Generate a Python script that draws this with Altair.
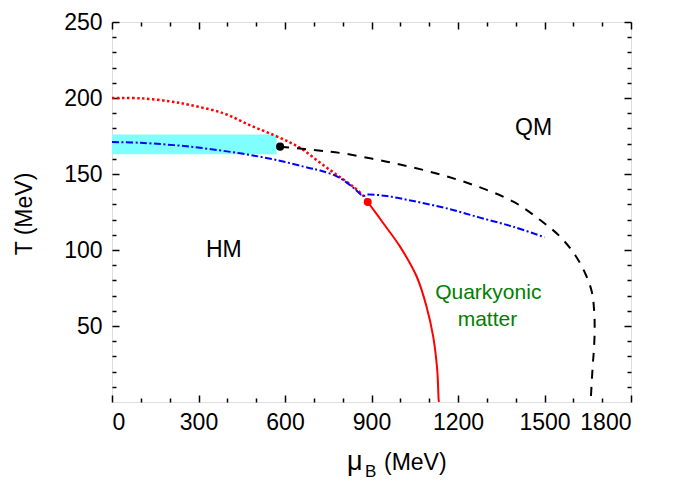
import altair as alt
import pandas as pd

# ---- data ----
red_dot_mu = [0, 100, 200, 270, 386, 479, 560, 620, 664, 721, 779, 837, 872, 887]
red_dot_T = [200, 199.8, 197.8, 195.4, 190, 182, 175.7, 170.5, 165.8, 157.5, 149.5, 141.6, 135.5, 131.6]

blue_mu = [0, 100, 270, 444, 571, 687, 720, 785, 837, 872, 883, 953, 1045, 1161, 1276, 1392, 1500]
blue_T = [171, 170.5, 168, 163.6, 159.2, 153.8, 152.4, 148, 141, 135.5, 136.4, 135.5, 132.2, 127.4, 121.3, 115.3, 108.4]

black_mu = [583, 700, 800, 953, 1103, 1253, 1392, 1485, 1554, 1606, 1641, 1664, 1672, 1674, 1672, 1667, 1660]
black_T = [168, 165.8, 163.6, 158.1, 151.5, 142.8, 131.8, 119.7, 108.8, 96.7, 84.7, 72.6, 60.5, 49.5, 36.4, 23.2, 0]

red_mu = [887, 941, 999, 1057, 1091, 1114, 1128, 1133, 1134]
red_T = [131.6, 117.6, 102.2, 82.4, 62.7, 43, 21, 1.3, 0]

band_mu = [0, 571]
band_T = [163, 176]

pt_mu = [583, 887]
pt_T = [168, 131.6]
pt_color = ["black", "red"]

labels = ["HM", "QM", "Quarkyonic", "matter"]
label_mu = [388, 1462, 1305, 1302]
label_T = [100, 180, 72, 54]
label_color = ["black", "black", "green", "green"]
label_size = [23, 23, 21, 21]

x_major = [0, 300, 600, 900, 1200, 1500, 1800]
x_minor = [v for v in range(0, 1801, 100) if v % 300 != 0]
y_major = [50, 100, 150, 200, 250]
y_minor = [v for v in range(0, 251, 10) if v % 50 != 0]

W, H = 519, 380
FONT = "Liberation Sans"

xs = alt.Scale(domain=[0, 1800], nice=False, zero=False)
ys = alt.Scale(domain=[0, 250], nice=False, zero=False)


def line_df(mu, T):
    return pd.DataFrame({"mu": mu, "T": T, "i": list(range(len(mu)))})


def curve(df, color, width, dash=None):
    kw = dict(color=color, strokeWidth=width, interpolate="catmull-rom", clip=True)
    if dash:
        kw["strokeDash"] = dash
    return alt.Chart(df).mark_line(**kw).encode(
        x=alt.X("mu:Q", scale=xs, axis=None),
        y=alt.Y("T:Q", scale=ys, axis=None),
        order="i:Q",
    )


band = alt.Chart(pd.DataFrame({"x0": [band_mu[0]], "x1": [band_mu[1]],
                               "y0": [band_T[0]], "y1": [band_T[1]]})).mark_rect(
    color="#80ffff").encode(
    x=alt.X("x0:Q", scale=xs, axis=None), x2="x1:Q",
    y=alt.Y("y0:Q", scale=ys, axis=None), y2="y1:Q")

red_dotted = curve(line_df(red_dot_mu, red_dot_T), "red", 2.5, [2.5, 2.5])
blue_dd = curve(line_df(blue_mu, blue_T), "blue", 2, [7, 2.5, 2, 2.5])
black_dash = curve(line_df(black_mu, black_T), "black", 2, [9, 8])
red_solid = curve(line_df(red_mu, red_T), "red", 2)

points = alt.Chart(pd.DataFrame({"mu": pt_mu, "T": pt_T, "c": pt_color})).mark_circle(
    size=65, opacity=1).encode(
    x=alt.X("mu:Q", scale=xs, axis=None),
    y=alt.Y("T:Q", scale=ys, axis=None),
    color=alt.Color("c:N", scale=None))

texts = alt.Chart(pd.DataFrame({"t": labels, "mu": label_mu, "T": label_T,
                                "c": label_color, "s": label_size})).mark_text(
    font=FONT, align="center", baseline="middle").encode(
    x=alt.X("mu:Q", scale=xs, axis=None),
    y=alt.Y("T:Q", scale=ys, axis=None),
    text="t:N",
    color=alt.Color("c:N", scale=None),
    size=alt.Size("s:Q", scale=None))

dummy = pd.DataFrame({"mu": [0], "T": [0]})


def xaxis_layer(axis):
    return alt.Chart(dummy).mark_point(opacity=0).encode(
        x=alt.X("mu:Q", scale=xs, axis=axis),
        y=alt.Y("T:Q", scale=ys, axis=None))


def yaxis_layer(axis):
    return alt.Chart(dummy).mark_point(opacity=0).encode(
        x=alt.X("mu:Q", scale=xs, axis=None),
        y=alt.Y("T:Q", scale=ys, axis=axis))


common = dict(title=None, domain=False, grid=False, tickColor="black", tickWidth=1.5)

ax_layers = [
    # labels
    xaxis_layer(alt.Axis(orient="bottom", values=x_major, ticks=False, labelPadding=9,
                         format="d", labelFont=FONT, labelFontSize=23, labelColor="black",
                         title=None, domain=False, grid=False)),
    yaxis_layer(alt.Axis(orient="left", values=y_major, ticks=False, labelPadding=10,
                         format="d", labelFont=FONT, labelFontSize=23, labelColor="black",
                         title=None, domain=False, grid=False)),
    # inward ticks bottom
    xaxis_layer(alt.Axis(orient="top", offset=-H, values=x_major, tickSize=7, labels=False, **common)),
    xaxis_layer(alt.Axis(orient="top", offset=-H, values=x_minor, tickSize=4, labels=False, **common)),
    # inward ticks top
    xaxis_layer(alt.Axis(orient="bottom", offset=-H, values=x_major, tickSize=7, labels=False, **common)),
    xaxis_layer(alt.Axis(orient="bottom", offset=-H, values=x_minor, tickSize=4, labels=False, **common)),
    # inward ticks left
    yaxis_layer(alt.Axis(orient="right", offset=-W, values=y_major, tickSize=7, labels=False, **common)),
    yaxis_layer(alt.Axis(orient="right", offset=-W, values=y_minor, tickSize=4, labels=False, **common)),
    # inward ticks right
    yaxis_layer(alt.Axis(orient="left", offset=-W, values=y_major, tickSize=7, labels=False, **common)),
    yaxis_layer(alt.Axis(orient="left", offset=-W, values=y_minor, tickSize=4, labels=False, **common)),
]

# axis titles
title_df = pd.DataFrame({"t": ["T (MeV)"]})
ytitle = alt.Chart(title_df).mark_text(font=FONT, fontSize=23, angle=270, align="center",
                                       baseline="middle", color="black").encode(
    text="t:N", x=alt.value(-87), y=alt.value(192))

xt_mu = alt.Chart(pd.DataFrame({"t": ["μ"]})).mark_text(
    font=FONT, fontSize=27, align="left", baseline="alphabetic", color="black").encode(
    text="t:N", x=alt.value(235), y=alt.value(448))
xt_b = alt.Chart(pd.DataFrame({"t": ["B"]})).mark_text(
    font=FONT, fontSize=17, align="left", baseline="alphabetic", color="black").encode(
    text="t:N", x=alt.value(253), y=alt.value(455))
xt_mev = alt.Chart(pd.DataFrame({"t": ["(MeV)"]})).mark_text(
    font=FONT, fontSize=23, align="left", baseline="alphabetic", color="black").encode(
    text="t:N", x=alt.value(272), y=alt.value(448))

chart = alt.layer(
    band, red_dotted, blue_dd, black_dash, red_solid, points, texts,
    *ax_layers, ytitle, xt_mu, xt_b, xt_mev
).resolve_axis(x="independent", y="independent").properties(
    width=W, height=H,
    autosize=alt.AutoSizeParams(type="none"),
    padding={"left": 104, "top": 14, "right": 30, "bottom": 90},
).configure_view(stroke="black", strokeWidth=2).configure(background="white")

chart.save("out.html", embed_options={"renderer": "svg", "actions": False})
